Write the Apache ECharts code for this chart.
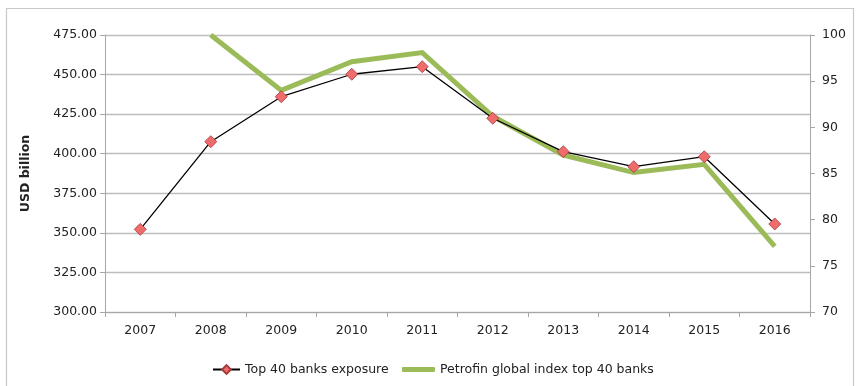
<!DOCTYPE html>
<html>
<head>
<meta charset="utf-8">
<script src="https://cdn.jsdelivr.net/npm/echarts@6/dist/echarts.min.js"></script>
<style>
  html, body { margin: 0; padding: 0; background: #ffffff; }
  #chart { width: 856px; height: 386px; }
</style>
</head>
<body>
<div id="chart"></div>
<script>
// Years on the category axis
const years = ['2007', '2008', '2009', '2010', '2011', '2012', '2013', '2014', '2015', '2016'];

// Top 40 banks exposure, USD billion (left axis)
const exposure = [352.2, 407.6, 436.0, 450.2, 455.0, 422.4, 401.3, 391.8, 398.1, 355.6];

// Petrofin global index for the top 40 banks (right axis); no value for 2007
const petrofinIndex = [null, 100, 94.0, 97.1, 98.1, 91.2, 87.0, 85.1, 86.0, 77.1];

const leftTicks = { min: 300, max: 475, step: 25 };
const rightTicks = { min: 70, max: 100, step: 5 };

const FONT = '"DejaVu Sans", "Open Sans", sans-serif';
const TEXT = '#222222';
const GRID = '#bdbdbd';
const AXIS = '#a6a6a6';

const chart = echarts.init(document.getElementById('chart'), null, { renderer: 'canvas' });

chart.setOption({
  backgroundColor: '#ffffff',
  animation: false,
  textStyle: { fontFamily: FONT },
  graphic: [{
    type: 'rect',
    shape: { x: 6.5, y: 8.5, width: 847, height: 400 },
    style: { fill: null, stroke: '#c8c8c8', lineWidth: 1.2 },
    silent: true,
    z: -1
  }],
  grid: { left: 105, right: 46, top: 35, bottom: 74, containLabel: false },
  legend: [{
    left: 207,
    top: 358,
    itemWidth: 27,
    itemHeight: 11,
    textStyle: { fontFamily: FONT, fontSize: 12.5, color: TEXT },
    data: ['Top 40 banks exposure']
  }, {
    left: 397,
    top: 358,
    itemWidth: 33,
    itemHeight: 5,
    icon: 'roundRect',
    textStyle: { fontFamily: FONT, fontSize: 12.5, color: TEXT },
    data: ['Petrofin global index top 40 banks']
  }],
  xAxis: {
    type: 'category',
    data: years,
    boundaryGap: true,
    axisLine: { lineStyle: { color: AXIS } },
    axisTick: { show: true, length: 5, lineStyle: { color: AXIS } },
    axisLabel: { fontFamily: FONT, fontSize: 12.5, color: TEXT, margin: 12 }
  },
  yAxis: [{
    type: 'value',
    min: leftTicks.min,
    max: leftTicks.max,
    interval: leftTicks.step,
    name: 'USD billion',
    nameLocation: 'middle',
    nameGap: 73,
    nameRotate: 90,
    nameTextStyle: { fontFamily: FONT, fontSize: 12.5, fontWeight: 'bold', color: TEXT },
    axisLine: { show: true, lineStyle: { color: AXIS } },
    axisTick: { show: true, length: 5, lineStyle: { color: AXIS } },
    axisLabel: {
      fontFamily: FONT, fontSize: 12.5, color: TEXT, margin: 8,
      formatter: v => v.toFixed(2)
    },
    splitLine: { show: true, lineStyle: { color: GRID, width: 1.3 } }
  }, {
    type: 'value',
    position: 'right',
    min: rightTicks.min,
    max: rightTicks.max,
    interval: rightTicks.step,
    axisLine: { show: true, lineStyle: { color: AXIS } },
    axisTick: { show: true, length: 5, lineStyle: { color: AXIS } },
    axisLabel: { fontFamily: FONT, fontSize: 12.5, color: TEXT, margin: 12 },
    splitLine: { show: false }
  }],
  series: [{
    name: 'Petrofin global index top 40 banks',
    type: 'line',
    yAxisIndex: 1,
    data: petrofinIndex,
    symbol: 'none',
    connectNulls: false,
    lineStyle: { color: '#9bbb59', width: 5, join: 'miter' },
    itemStyle: { color: '#9bbb59' },
    z: 2
  }, {
    name: 'Top 40 banks exposure',
    type: 'line',
    yAxisIndex: 0,
    data: exposure,
    symbol: 'diamond',
    symbolSize: 12,
    lineStyle: { color: '#000000', width: 1.3 },
    itemStyle: { color: '#f06b6b', borderColor: '#a33a3a', borderWidth: 0.8 },
    z: 3
  }]
});
</script>
</body>
</html>
